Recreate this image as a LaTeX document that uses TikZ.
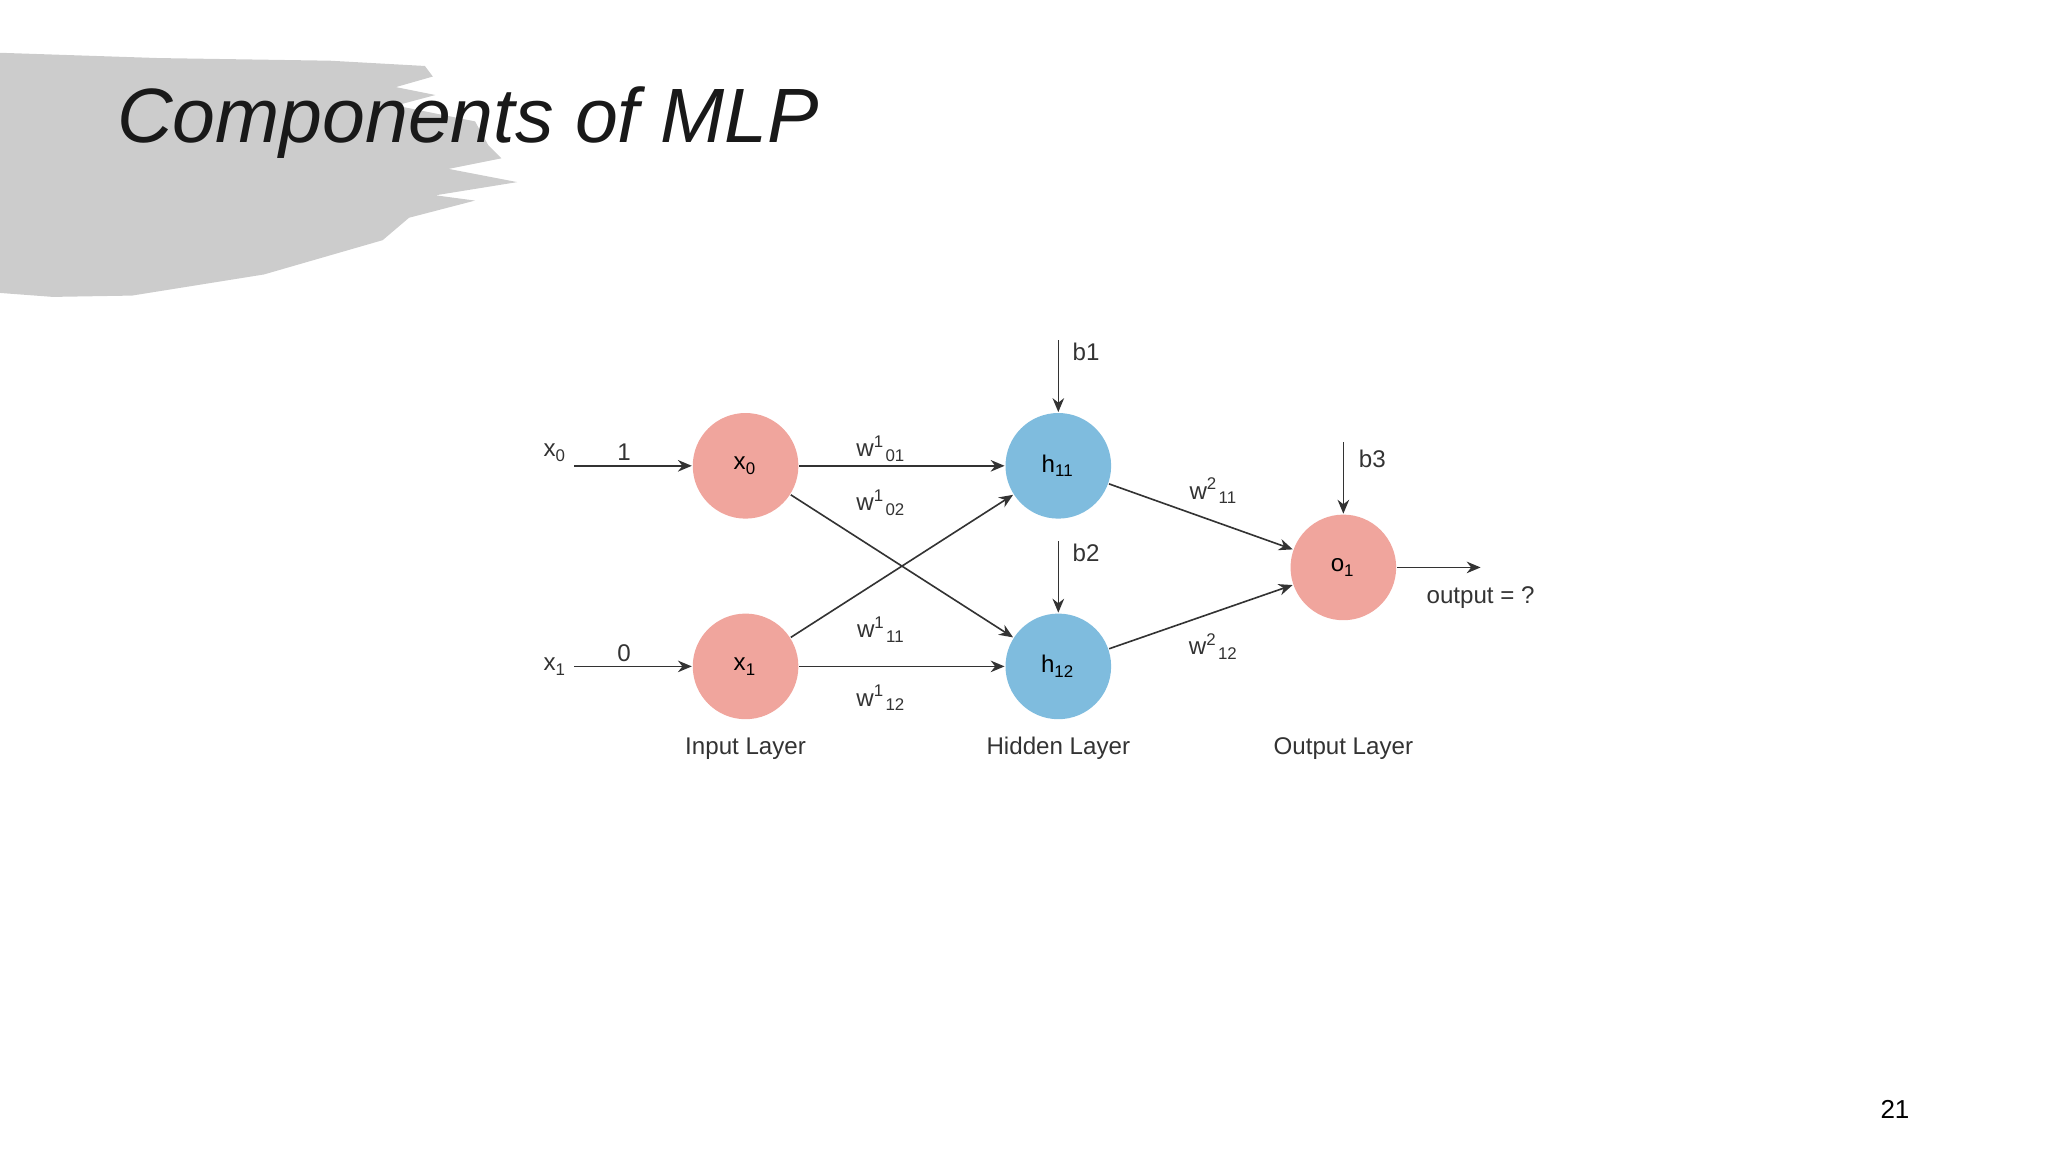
\documentclass[tikz,border=0pt]{standalone}
\usepackage{fontspec}
\setmainfont{Liberation Sans}
\usetikzlibrary{arrows.meta}
\definecolor{pinkc}{HTML}{F0A59D}
\definecolor{bluec}{HTML}{7FBCDE}
\newcommand{\lo}[1]{\textsubscript{#1}}
\newcommand{\hi}[1]{\textsuperscript{#1}}
\begin{document}
\begin{tikzpicture}[x=0.01cm,y=-0.01cm,
  neur/.style={circle,minimum size=0.8cm,inner sep=0pt,font=\fontsize{5.2}{6}\selectfont},
  pinkn/.style={neur,fill=pinkc},
  bluen/.style={neur,fill=bluec},
  lbl/.style={font=\fontsize{5.2}{6}\selectfont,inner sep=0pt,text=black!80},
  arr/.style={-{Stealth[length=3pt,width=2.5pt]},line width=0.35pt,black!80}]
\useasboundingbox (0,0) rectangle (1552,873);
\fill[black!20] (0,40) -- (120,44) -- (250,46) -- (322,50) -- (328,58) -- (300,66) -- (330,72) -- (300,80) -- (360,92) -- (370,110) -- (380,120) -- (340,128) -- (392,138) -- (330,148) -- (360,152) -- (310,165) -- (290,182) -- (200,208) -- (100,224) -- (40,225) -- (0,222) -- cycle;
\node[anchor=west,inner sep=0pt,font=\fontsize{16.6}{20}\selectfont\itshape,text=black!90] (title) at (88,93) {Components of MLP};
\node[pinkn] (x0) at (565,353) {x\lo{0}};
\node[pinkn] (x1) at (565,505) {x\lo{1}};
\node[bluen] (h11) at (802,353) {h\lo{11}};
\node[bluen] (h12) at (802,505) {h\lo{12}};
\node[pinkn] (o1) at (1018,430) {o\lo{1}};
\node[lbl] (ix0) at (421,343) {x\lo{0}};
\node[lbl] (ix1) at (421,505) {x\lo{1}};
\coordinate (s0) at (435,353); \coordinate (s1) at (435,505);
\draw[arr] (s0) -- (x0); \draw[arr] (s1) -- (x1);
\node[lbl] (one) at (473,343) {1};
\node[lbl] (zero) at (473,495) {0};
\draw[arr] (x0) -- (h11); \draw[arr] (x0) -- (h12);
\draw[arr] (x1) -- (h11); \draw[arr] (x1) -- (h12);
\draw[arr] (h11) -- (o1); \draw[arr] (h12) -- (o1);
\coordinate (b1s) at (802,258); \coordinate (b2s) at (802,410); \coordinate (b3s) at (1018,335);
\draw[arr] (b1s) -- (h11); \draw[arr] (b2s) -- (h12); \draw[arr] (b3s) -- (o1);
\node[lbl] (b1) at (823,267) {b1};
\node[lbl] (b2) at (823,419) {b2};
\node[lbl] (b3) at (1040,348) {b3};
\coordinate (oe) at (1122,430);
\draw[arr] (o1) -- (oe);
\node[lbl] (out) at (1122,453) {output = ?};
\node[lbl] (w1) at (668,340) {w\hi{1}\lo{01}};
\node[lbl] (w2) at (668,381) {w\hi{1}\lo{02}};
\node[lbl] (w3) at (668,477) {w\hi{1}\lo{11}};
\node[lbl] (w4) at (668,529) {w\hi{1}\lo{12}};
\node[lbl] (w5) at (920,372) {w\hi{2}\lo{11}};
\node[lbl] (w6) at (920,490) {w\hi{2}\lo{12}};
\node[lbl] (L1) at (565,567) {Input Layer};
\node[lbl] (L2) at (802,567) {Hidden Layer};
\node[lbl] (L3) at (1018,567) {Output Layer};
\node[lbl,text=black,font=\fontsize{5.6}{7}\selectfont] (pg) at (1436,841) {21};
\end{tikzpicture}
\end{document}
